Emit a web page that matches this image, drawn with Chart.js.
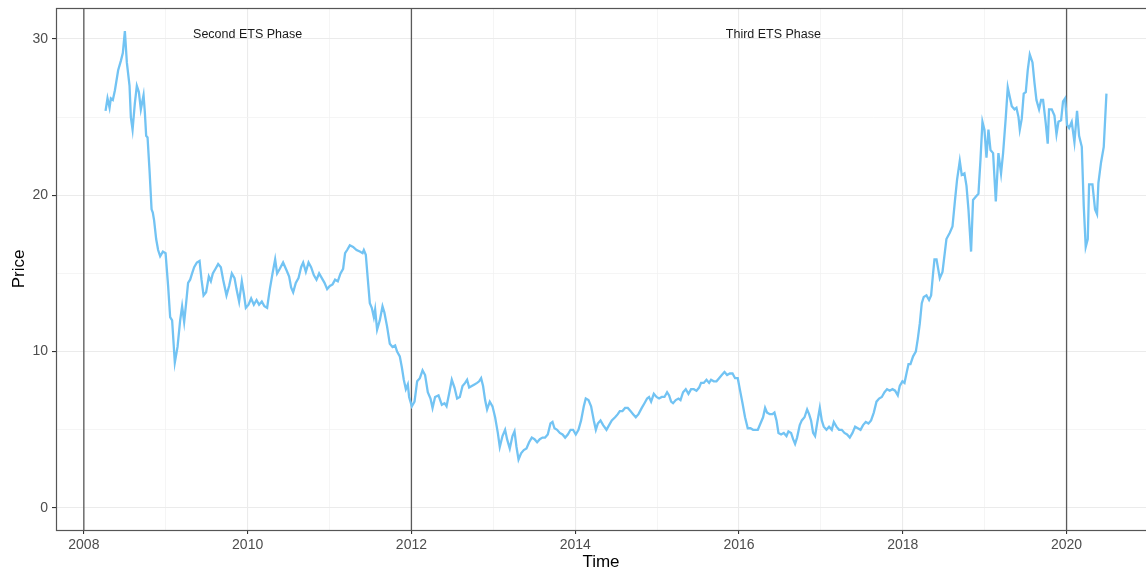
<!DOCTYPE html>
<html>
<head>
<meta charset="utf-8">
<script src="https://cdn.jsdelivr.net/npm/chart.js@4.4.1/dist/chart.umd.min.js"></script>
<style>
  html, body { margin: 0; padding: 0; background: #fff; }
  #wrap { width: 1146px; height: 571px; position: relative; }
</style>
</head>
<body>
<div id="wrap"><canvas id="priceChart"></canvas></div>
<script>
// EUA price series (decimal year, price)
var years = [
  2008.265, 2008.289, 2008.314, 2008.330, 2008.354, 2008.379, 2008.419, 2008.452, 2008.476, 2008.501,
  2008.525, 2008.558, 2008.574, 2008.595, 2008.623, 2008.647, 2008.672, 2008.696, 2008.729, 2008.745,
  2008.761, 2008.778, 2008.802, 2008.827, 2008.842, 2008.858, 2008.883, 2008.907, 2008.932, 2008.965,
  2008.998, 2009.029, 2009.054, 2009.078, 2009.111, 2009.144, 2009.176, 2009.200, 2009.225, 2009.249,
  2009.273, 2009.298, 2009.322, 2009.347, 2009.380, 2009.413, 2009.437, 2009.462, 2009.493, 2009.526,
  2009.551, 2009.575, 2009.608, 2009.640, 2009.673, 2009.701, 2009.742, 2009.774, 2009.807, 2009.840,
  2009.864, 2009.896, 2009.929, 2009.954, 2009.978, 2010.011, 2010.043, 2010.076, 2010.109, 2010.140,
  2010.173, 2010.205, 2010.238, 2010.271, 2010.304, 2010.336, 2010.360, 2010.393, 2010.433, 2010.475,
  2010.507, 2010.531, 2010.556, 2010.588, 2010.621, 2010.653, 2010.678, 2010.711, 2010.744, 2010.775,
  2010.808, 2010.841, 2010.873, 2010.906, 2010.939, 2010.971, 2011.004, 2011.037, 2011.068, 2011.101,
  2011.134, 2011.166, 2011.190, 2011.215, 2011.248, 2011.288, 2011.330, 2011.370, 2011.403, 2011.419,
  2011.443, 2011.468, 2011.492, 2011.516, 2011.541, 2011.557, 2011.581, 2011.614, 2011.647, 2011.670,
  2011.703, 2011.736, 2011.769, 2011.801, 2011.825, 2011.858, 2011.883, 2011.907, 2011.932, 2011.956,
  2011.972, 2012.005, 2012.038, 2012.070, 2012.103, 2012.136, 2012.167, 2012.200, 2012.233, 2012.258,
  2012.289, 2012.331, 2012.371, 2012.404, 2012.429, 2012.460, 2012.493, 2012.526, 2012.558, 2012.591,
  2012.624, 2012.656, 2012.680, 2012.705, 2012.737, 2012.770, 2012.802, 2012.827, 2012.851, 2012.875,
  2012.900, 2012.924, 2012.957, 2012.990, 2013.022, 2013.055, 2013.079, 2013.112, 2013.144, 2013.168,
  2013.201, 2013.234, 2013.259, 2013.283, 2013.308, 2013.339, 2013.372, 2013.405, 2013.437, 2013.470,
  2013.503, 2013.535, 2013.568, 2013.601, 2013.632, 2013.665, 2013.698, 2013.723, 2013.747, 2013.779,
  2013.812, 2013.845, 2013.877, 2013.910, 2013.943, 2013.974, 2014.007, 2014.040, 2014.072, 2014.105,
  2014.129, 2014.162, 2014.194, 2014.227, 2014.252, 2014.276, 2014.309, 2014.341, 2014.382, 2014.414,
  2014.447, 2014.487, 2014.520, 2014.545, 2014.577, 2014.609, 2014.642, 2014.675, 2014.707, 2014.740,
  2014.773, 2014.813, 2014.846, 2014.878, 2014.902, 2014.927, 2014.960, 2014.993, 2015.024, 2015.057,
  2015.090, 2015.122, 2015.147, 2015.171, 2015.195, 2015.228, 2015.261, 2015.286, 2015.317, 2015.350,
  2015.383, 2015.415, 2015.448, 2015.481, 2015.513, 2015.537, 2015.570, 2015.603, 2015.635, 2015.659,
  2015.692, 2015.725, 2015.757, 2015.790, 2015.823, 2015.855, 2015.888, 2015.921, 2015.952, 2015.985,
  2016.010, 2016.043, 2016.074, 2016.107, 2016.140, 2016.172, 2016.205, 2016.230, 2016.262, 2016.294,
  2016.319, 2016.343, 2016.376, 2016.409, 2016.433, 2016.458, 2016.482, 2016.514, 2016.547, 2016.580,
  2016.604, 2016.636, 2016.661, 2016.685, 2016.709, 2016.742, 2016.767, 2016.800, 2016.832, 2016.856,
  2016.880, 2016.905, 2016.929, 2016.954, 2016.987, 2017.011, 2017.035, 2017.068, 2017.100, 2017.133,
  2017.158, 2017.190, 2017.222, 2017.255, 2017.288, 2017.320, 2017.353, 2017.386, 2017.418, 2017.451,
  2017.484, 2017.515, 2017.548, 2017.581, 2017.613, 2017.646, 2017.679, 2017.711, 2017.744, 2017.777,
  2017.808, 2017.841, 2017.874, 2017.906, 2017.939, 2017.963, 2017.996, 2018.021, 2018.045, 2018.070,
  2018.094, 2018.126, 2018.159, 2018.183, 2018.208, 2018.232, 2018.256, 2018.289, 2018.321, 2018.346,
  2018.370, 2018.387, 2018.412, 2018.452, 2018.485, 2018.533, 2018.574, 2018.607, 2018.638, 2018.663,
  2018.696, 2018.720, 2018.753, 2018.778, 2018.802, 2018.834, 2018.858, 2018.891, 2018.924, 2018.949,
  2018.973, 2018.997, 2019.022, 2019.046, 2019.071, 2019.103, 2019.136, 2019.168, 2019.200, 2019.225,
  2019.258, 2019.282, 2019.306, 2019.331, 2019.364, 2019.388, 2019.413, 2019.429, 2019.453, 2019.477,
  2019.502, 2019.526, 2019.551, 2019.584, 2019.608, 2019.632, 2019.664, 2019.689, 2019.713, 2019.746,
  2019.770, 2019.786, 2019.819, 2019.852, 2019.877, 2019.901, 2019.933, 2019.957, 2019.982, 2020.006,
  2020.031, 2020.063, 2020.096, 2020.128, 2020.153, 2020.186, 2020.210, 2020.234, 2020.259, 2020.275,
  2020.316, 2020.348, 2020.372, 2020.389, 2020.421, 2020.454, 2020.487
];
var prices = [
  25.4, 26.2, 25.6, 26.2, 26.1, 26.7, 28.0, 28.6, 29.1, 30.5,
  28.5, 27.0, 25.0, 24.2, 25.9, 27.0, 26.6, 25.5, 26.4, 25.3,
  23.8, 23.7, 21.6, 19.1, 18.9, 18.4, 17.2, 16.5, 16.1, 16.4,
  16.3, 14.2, 12.2, 12.0, 9.3, 10.3, 12.0, 12.9, 11.9, 13.1,
  14.4, 14.6, 15.0, 15.4, 15.7, 15.8, 14.6, 13.6, 13.8, 14.8,
  14.5, 15.0, 15.3, 15.6, 15.4, 14.6, 13.6, 14.2, 15.0, 14.7,
  14.0, 13.2, 14.5, 13.7, 12.8, 13.0, 13.4, 13.0, 13.3, 13.0,
  13.2, 12.9, 12.8, 14.0, 15.0, 15.9, 15.0, 15.3, 15.7, 15.2,
  14.8, 14.1, 13.8, 14.4, 14.7, 15.4, 15.7, 15.1, 15.7, 15.4,
  14.9, 14.6, 15.0, 14.7, 14.4, 14.0, 14.2, 14.3, 14.6, 14.5,
  15.0, 15.3, 16.3, 16.5, 16.8, 16.7, 16.5, 16.4, 16.3, 16.5,
  16.2, 14.6, 13.1, 12.8, 12.2, 12.7, 11.4, 12.0, 12.9, 12.5,
  11.6, 10.5, 10.3, 10.4, 10.0, 9.7, 9.0, 8.2, 7.6, 7.9,
  7.1, 6.5, 6.8, 8.1, 8.3, 8.8, 8.5, 7.4, 7.0, 6.4,
  7.1, 7.2, 6.6, 6.7, 6.5, 7.3, 8.2, 7.7, 7.0, 7.1,
  7.8, 8.0, 8.2, 7.7, 7.8, 7.9, 8.0, 8.1, 8.3, 7.8,
  6.9, 6.3, 6.8, 6.5, 5.8, 4.8, 3.9, 4.6, 5.0, 4.4,
  3.8, 4.6, 4.9, 3.9, 3.1, 3.5, 3.7, 3.8, 4.2, 4.5,
  4.4, 4.2, 4.4, 4.5, 4.5, 4.7, 5.4, 5.5, 5.1, 5.0,
  4.8, 4.7, 4.5, 4.7, 5.0, 5.0, 4.7, 5.0, 5.6, 6.5,
  7.0, 6.9, 6.5, 5.6, 5.0, 5.4, 5.6, 5.3, 5.0, 5.3,
  5.6, 5.8, 6.0, 6.2, 6.2, 6.4, 6.4, 6.2, 6.0, 5.8,
  6.0, 6.4, 6.7, 7.0, 7.1, 6.8, 7.3, 7.1, 7.0, 7.1,
  7.1, 7.4, 7.2, 6.8, 6.7, 6.9, 7.0, 6.9, 7.4, 7.6,
  7.3, 7.6, 7.6, 7.5, 7.7, 8.0, 8.0, 8.2, 8.0, 8.2,
  8.1, 8.1, 8.3, 8.5, 8.7, 8.5, 8.6, 8.6, 8.3, 8.3,
  7.6, 6.7, 5.8, 5.1, 5.1, 5.0, 5.0, 5.0, 5.4, 5.8,
  6.4, 6.1, 6.0, 6.0, 6.1, 5.6, 4.8, 4.7, 4.8, 4.6,
  4.9, 4.8, 4.4, 4.1, 4.5, 5.3, 5.6, 5.8, 6.3, 6.0,
  5.6, 4.8, 4.6, 5.4, 6.4, 5.6, 5.2, 5.0, 5.2, 5.0,
  5.5, 5.2, 5.0, 5.0, 4.8, 4.7, 4.5, 4.8, 5.2, 5.1,
  5.0, 5.3, 5.5, 5.4, 5.6, 6.1, 6.8, 7.0, 7.1, 7.4,
  7.6, 7.5, 7.6, 7.5, 7.2, 7.8, 8.1, 8.0, 8.6, 9.2,
  9.2, 9.7, 10.0, 10.8, 11.8, 13.1, 13.5, 13.6, 13.3, 13.6,
  15.0, 15.9, 15.9, 14.7, 15.1, 17.2, 17.6, 18.0, 19.7, 21.0,
  22.2, 21.3, 21.4, 20.6, 19.1, 16.4, 19.7, 19.9, 20.1, 22.3,
  24.7, 24.2, 22.4, 24.2, 22.9, 22.7, 19.6, 22.7, 21.4, 22.7,
  25.0, 26.9, 26.3, 25.7, 25.5, 25.6, 25.0, 24.2, 24.9, 26.5,
  26.6, 28.0, 29.0, 28.5, 27.2, 26.1, 25.5, 26.1, 26.1, 24.6,
  23.3, 25.5, 25.5, 25.1, 23.9, 24.7, 24.8, 26.0, 26.2, 24.5,
  24.3, 24.7, 23.4, 25.4, 23.8, 23.1, 19.3, 16.7, 17.2, 20.7,
  20.7, 19.1, 18.8, 20.8, 22.1, 23.1, 26.5
];

// axis ticks (odd years / 5s are minor gridlines only)
var xTicks = [2008, 2009, 2010, 2011, 2012, 2013, 2014, 2015, 2016, 2017, 2018, 2019, 2020];
var yTicks = [0, 5, 10, 15, 20, 25, 30];

// ETS phase boundaries and labels
var phaseYears = [2008, 2012, 2020];
var phaseLabels = ['Second ETS Phase', 'Third ETS Phase'];
var phaseLabelX = [2010, 2016.42];
var phaseLabelY = 30.3;

var FONT = '"Liberation Sans", Arial, Helvetica, sans-serif';

var points = years.map(function (yr, i) { return { x: yr, y: prices[i] }; });

function isMajorX(v) { return v % 2 === 0; }
function isMajorY(v) { return v % 10 === 0; }

// phase lines + labels + panel border
var panelPlugin = {
    id: 'panel',
    beforeDatasetsDraw: function (chart) {
        var ctx = chart.ctx, a = chart.chartArea, x = chart.scales.x, y = chart.scales.y;
        ctx.save();
        ctx.strokeStyle = '#5a5a5a';
        ctx.lineWidth = 1.3;
        phaseYears.forEach(function (yr) {
            var px = x.getPixelForValue(yr);
            ctx.beginPath();
            ctx.moveTo(px, a.top);
            ctx.lineTo(px, a.bottom);
            ctx.stroke();
        });
        ctx.fillStyle = '#1a1a1a';
        ctx.font = '12.5px ' + FONT;
        ctx.textAlign = 'center';
        ctx.textBaseline = 'middle';
        phaseLabels.forEach(function (t, i) {
            ctx.fillText(t, x.getPixelForValue(phaseLabelX[i]), y.getPixelForValue(phaseLabelY));
        });
        ctx.restore();
    },
    afterDraw: function (chart) {
        var ctx = chart.ctx, a = chart.chartArea;
        ctx.save();
        ctx.strokeStyle = '#555';
        ctx.lineWidth = 1.2;
        // right edge of the panel is cut off in the original
        ctx.strokeRect(a.left + 0.5, a.top + 0.5, a.right - a.left + 20, a.bottom - a.top);
        ctx.restore();
    }
};

var ctx = document.getElementById('priceChart').getContext('2d');
var priceChart = new Chart(ctx, {
    type: 'line',
    data: {
        datasets: [{
            label: 'Price',
            data: points,
            borderColor: '#72c3f3',
            borderWidth: 2.3,
            pointRadius: 0,
            tension: 0,
            fill: false
        }]
    },
    options: {
        responsive: true,
        maintainAspectRatio: false,
        animation: false,
        layout: { padding: { top: 8, right: 0, left: 0, bottom: 0 } },
        plugins: {
            legend: { display: false },
            tooltip: { enabled: false }
        },
        scales: {
            x: {
                type: 'linear',
                min: 2007.66,
                max: 2020.97,
                afterBuildTicks: function (scale) {
                    scale.ticks = xTicks.map(function (v) { return { value: v }; });
                },
                afterFit: function (scale) {
                    scale.height = 41;
                    scale.paddingLeft = 0;
                    scale.paddingRight = 0;
                },
                border: { display: false },
                grid: {
                    color: function (c) { return isMajorX(c.tick.value) ? '#ebebeb' : '#f3f3f3'; },
                    lineWidth: function (c) { return isMajorX(c.tick.value) ? 1.1 : 0.8; },
                    tickColor: function (c) { return isMajorX(c.tick.value) ? '#333' : 'rgba(0,0,0,0)'; },
                    tickLength: 4,
                    drawTicks: true
                },
                ticks: {
                    autoSkip: false,
                    maxRotation: 0,
                    padding: 3,
                    color: '#4d4d4d',
                    font: { family: FONT, size: 14 },
                    callback: function (v) { return isMajorX(v) ? String(v) : ''; }
                },
                title: {
                    display: true,
                    text: 'Time',
                    color: '#000',
                    font: { family: FONT, size: 17, lineHeight: 1.0 },
                    padding: { top: 0, bottom: 0 }
                }
            },
            y: {
                min: -1.41,
                max: 31.98,
                afterBuildTicks: function (scale) {
                    scale.ticks = yTicks.map(function (v) { return { value: v }; });
                },
                afterFit: function (scale) {
                    scale.width = 56;
                    scale.paddingTop = 0;
                    scale.paddingBottom = 0;
                },
                border: { display: false },
                grid: {
                    color: function (c) { return isMajorY(c.tick.value) ? '#ebebeb' : '#f3f3f3'; },
                    lineWidth: function (c) { return isMajorY(c.tick.value) ? 1.1 : 0.8; },
                    tickColor: function (c) { return isMajorY(c.tick.value) ? '#333' : 'rgba(0,0,0,0)'; },
                    tickLength: 4,
                    drawTicks: true
                },
                ticks: {
                    padding: 4,
                    color: '#4d4d4d',
                    font: { family: FONT, size: 14 },
                    callback: function (v) { return isMajorY(v) ? String(v) : ''; }
                },
                title: {
                    display: true,
                    text: 'Price',
                    color: '#000',
                    font: { family: FONT, size: 17 },
                    padding: { top: 9, bottom: 0 }
                }
            }
        }
    },
    plugins: [panelPlugin]
});
</script>
</body>
</html>
